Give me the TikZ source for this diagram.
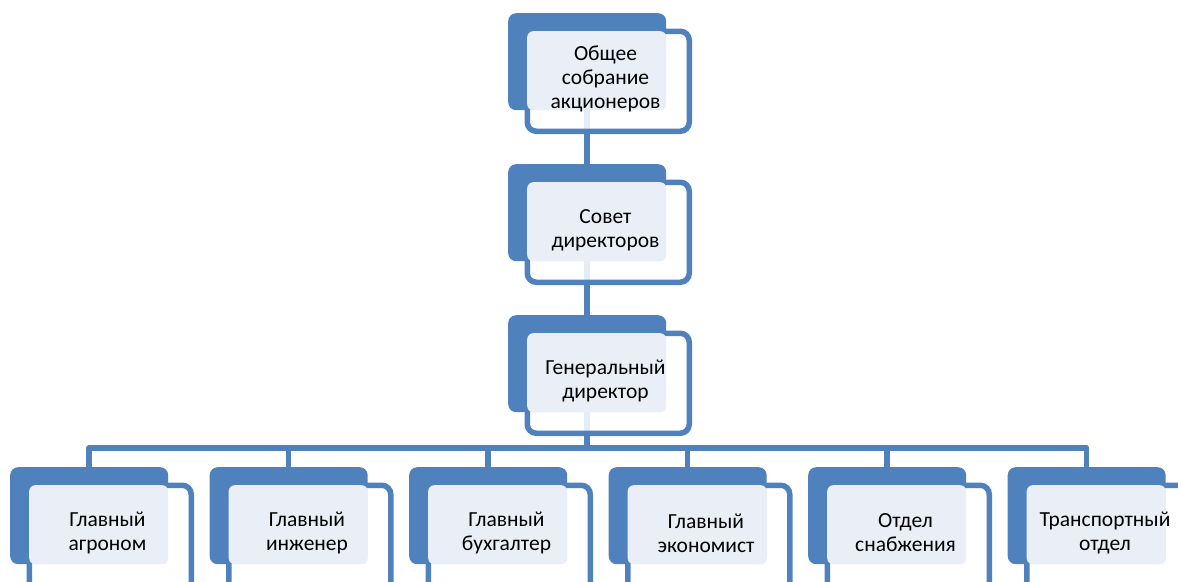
\documentclass[tikz,border=0pt]{standalone}
\usepackage{fontspec}
\setmainfont{Carlito}
\pgfdeclarelayer{bg}
\pgfsetlayers{bg,main}
\definecolor{accblue}{HTML}{4F81BD}
\definecolor{lightfill}{HTML}{EAEFF7}
\begin{document}
\begin{tikzpicture}[x=1pt,y=-1pt,
  backbox/.style={rectangle,rounded corners=8pt,fill=accblue,draw=none,minimum width=158pt,minimum height=97pt,inner sep=0pt,anchor=north west},
  frontbox/.style={rectangle,rounded corners=9pt,draw=accblue,line width=5.5pt,fill=white,fill opacity=0.85,minimum width=162pt,minimum height=100pt,inner sep=0pt,anchor=north west},
  lightbox/.style={rectangle,rounded corners=6pt,fill=lightfill,draw=none,minimum width=139pt,minimum height=79pt,inner sep=0pt,anchor=north west},
  txt/.style={align=center,font=\fontsize{21.5pt}{24pt}\selectfont,text=black,inner sep=0pt},
  conn/.style={draw=accblue,line width=5.5pt}]
\useasboundingbox (0,0) rectangle (1178,581);
\newcommand{\OrgUnit}[5]{%
  \begin{scope}[shift={(#2,#3)}]
    \node[backbox] (#1-back) at (0,0) {};
    \node[frontbox,#5] (#1-front) at (16.5,15.5) {};
    \node[lightbox] (#1-light) at (19,18) {};
    \node[txt] (#1) at (97.5,66) {#4};
  \end{scope}}
\OrgUnit{osa}{508}{13}{Общее\\собрание\\акционеров}{}
\OrgUnit{sd}{508}{164}{Совет\\директоров}{}
\OrgUnit{gd}{508}{315}{Генеральный\\директор}{}
\OrgUnit{c1}{10}{467}{Главный\\агроном}{minimum height=106pt}
\OrgUnit{c2}{209.5}{467}{Главный\\инженер}{minimum height=106pt}
\OrgUnit{c3}{409}{467}{Главный\\бухгалтер}{minimum height=106pt}
\OrgUnit{c4}{608.5}{467}{Главный\\экономист}{minimum height=106pt}
\OrgUnit{c5}{808}{467}{Отдел\\снабжения}{minimum height=106pt}
\OrgUnit{c6}{1007.5}{467}{Транспортный\\отдел}{minimum height=106pt}
\coordinate (bus) at (0,448);
\begin{pgfonlayer}{bg}
  \draw[conn] (osa-back.south) -- (sd-back.north);
  \draw[conn] (sd-back.south) -- (gd-back.north);
  \draw[conn] (gd-back.south) -- (gd-back.south |- bus);
  \draw[conn,line join=round] (c1-back.north) -- (c1-back.north |- bus) -- (c6-back.north |- bus) -- (c6-back.north);
  \foreach \c in {c2,c3,c4,c5}{\draw[conn] (\c-back.north) -- (\c-back.north |- bus);}
\end{pgfonlayer}
\end{tikzpicture}
\end{document}
